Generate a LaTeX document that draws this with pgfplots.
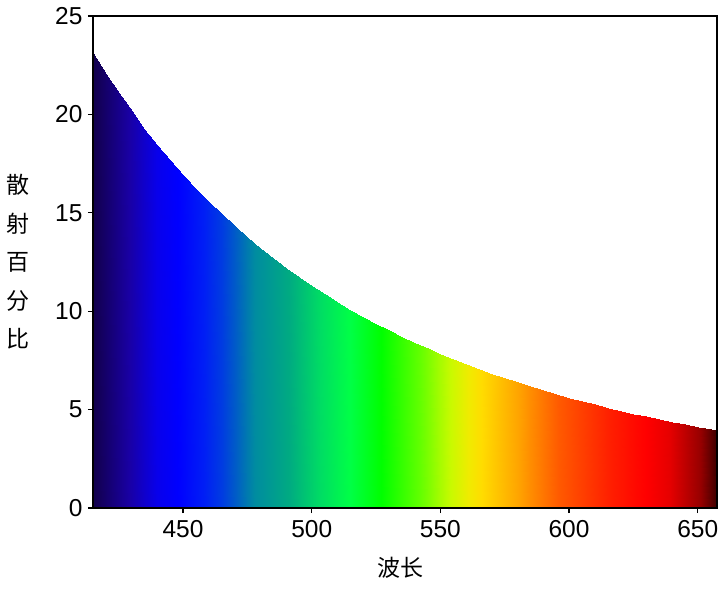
\documentclass[border=0pt]{standalone}
\usepackage{pgfplots}
\pgfplotsset{compat=1.18}
\usepackage{fontspec}
\setmainfont{Liberation Sans}
\newfontfamily\cjk{Noto Sans CJK SC}
\pgfplotsset{colormap={spectrum}{
 rgb255(415)=(18,0,75);
 rgb255(429)=(25,0,165);
 rgb255(440)=(8,0,235);
 rgb255(448)=(0,0,255);
 rgb255(458)=(0,30,245);
 rgb255(465)=(0,60,225);
 rgb255(478)=(0,140,160);
 rgb255(491)=(0,170,130);
 rgb255(503)=(0,220,100);
 rgb255(515)=(0,255,70);
 rgb255(527)=(0,255,0);
 rgb255(542)=(100,255,0);
 rgb255(554)=(200,250,0);
 rgb255(561)=(240,235,0);
 rgb255(566)=(255,220,0);
 rgb255(581)=(255,160,0);
 rgb255(596)=(255,90,0);
 rgb255(616)=(255,30,0);
 rgb255(630)=(255,0,0);
 rgb255(639)=(230,0,0);
 rgb255(651)=(150,0,0);
 rgb255(657.5)=(60,0,0)
}}
\begin{document}
\begin{tikzpicture}
\begin{axis}[
  scale only axis,
  width=624pt, height=492pt,
  xmin=415, xmax=657.5, ymin=0, ymax=25,
  enlargelimits=false,
  axis on top,
  xtick={450,500,550,600,650},
  ytick={0,5,10,15,20,25},
  xtick pos=bottom, ytick pos=left,
  tick align=outside,
  major tick length=5pt,
  every tick/.style={black, line width=1.2pt},
  axis line style={black, line width=1.3pt},
  tick label style={font=\fontsize{24.5}{26}\selectfont},
  xticklabel style={yshift=-4pt},
  yticklabel style={xshift=-2pt},
  /pgf/number format/assume math mode=true,
  xlabel={波长},
  xlabel style={font=\cjk\fontsize{23}{26}\selectfont, at={(axis description cs:0.492,-0.122)}, anchor=center},
  ylabel={散\\射\\百\\分\\比},
  ylabel style={font=\cjk\fontsize{23}{38.5}\selectfont, align=center, at={(axis description cs:-0.1202,0.5)}, anchor=center, rotate=-90},
  colormap name=spectrum,
  point meta min=415, point meta max=657.5,
]
\addplot[surf, shader=interp, mesh/rows=2, mesh/cols=50, point meta=x] table {
x y
415 0
420 0
425 0
430 0
435 0
440 0
445 0
450 0
455 0
460 0
465 0
470 0
475 0
480 0
485 0
490 0
495 0
500 0
505 0
510 0
515 0
520 0
525 0
530 0
535 0
540 0
545 0
550 0
555 0
560 0
565 0
570 0
575 0
580 0
585 0
590 0
595 0
600 0
605 0
610 0
615 0
620 0
625 0
630 0
635 0
640 0
645 0
650 0
655 0
657.5 0
415 23.10
420 22.06
425 21.08
430 20.16
435 19.28
440 18.45
445 17.67
450 16.93
455 16.22
460 15.56
465 14.92
470 14.32
475 13.75
480 13.21
485 12.70
490 12.21
495 11.74
500 11.29
505 10.87
510 10.47
515 10.08
520 9.72
525 9.36
530 9.03
535 8.71
540 8.40
545 8.11
550 7.83
555 7.57
560 7.31
565 7.06
570 6.83
575 6.60
580 6.39
585 6.18
590 5.98
595 5.79
600 5.61
605 5.43
610 5.26
615 5.10
620 4.94
625 4.79
630 4.65
635 4.51
640 4.38
645 4.25
650 4.12
655 4.00
657.5 3.95
};
\end{axis}
\path ([shift={(-93pt,-81pt)}]current axis.south west) rectangle ([shift={(10pt,16pt)}]current axis.north east);
\end{tikzpicture}
\end{document}
